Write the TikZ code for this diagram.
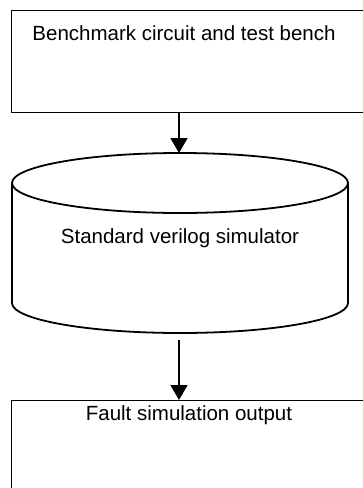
\documentclass[tikz,border=0pt]{standalone}
\usepackage{fontspec}
\setmainfont{Liberation Sans}
\usetikzlibrary{arrows.meta}
\begin{document}
\begin{tikzpicture}[x=1pt,y=-1pt,
  boxframe/.style={draw,line width=1.3pt,rectangle,anchor=north west,inner sep=0pt},
  caption/.style={font=\fontsize{20.5}{24}\selectfont,inner sep=0pt},
  flow/.style={line width=1.6pt,-{Triangle[length=15pt,width=17pt]}},
  drum/.style={line width=1.8pt}]
\useasboundingbox (0,0) rectangle (363,488);
\clip (0,0) rectangle (363,488);
\fill[white] (0,0) rectangle (363,488);

% input box
\node[boxframe,minimum width=370pt,minimum height=102pt] (bench) at (11,10) {};
\node[caption] (benchtext) at (184,33) {Benchmark circuit and test bench};

% simulator drawn as a drum
\coordinate (simtop) at (179,153);
\coordinate (simbot) at (179,333);
\draw[drum] (180,183) ellipse [x radius=168, y radius=30];
\draw[drum] (12,183) -- (12,303) arc[start angle=180,end angle=0,x radius=168,y radius=30] -- (348,183);
\node[caption] (sim) at (180,238) {Standard verilog simulator};

% output box
\node[boxframe,minimum width=370pt,minimum height=120pt] (out) at (11,400) {};
\node[caption] (outtext) at (189,415) {Fault simulation output};

% flow
\draw[flow] (bench.south -| simtop) -- (simtop);
\draw[flow] ([yshift=-7pt]simbot) -- (out.north -| simtop);
\end{tikzpicture}
\end{document}
